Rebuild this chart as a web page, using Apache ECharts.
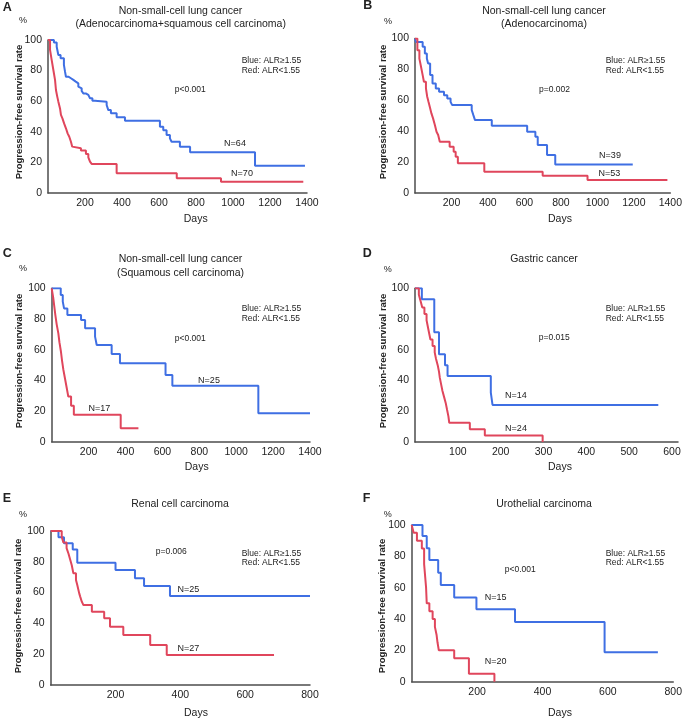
<!DOCTYPE html>
<html>
<head>
<meta charset="utf-8">
<script src="https://cdn.jsdelivr.net/npm/echarts@6/dist/echarts.min.js"></script>
<style>
html,body{margin:0;padding:0;background:#fff;}
#chart{width:685px;height:721px;}
</style>
</head>
<body>
<div id="chart"></div>
<script>
// ---- data (days, progression-free survival %) ----
const yTicks = [0, 20, 40, 60, 80, 100];
const xTicksLong = [200, 400, 600, 800, 1000, 1200, 1400];
const xTicksGastric = [100, 200, 300, 400, 500, 600];
const xTicksShort = [200, 400, 600, 800];

const aBlue = [[0,100],[32,98.3],[47,95.6],[56,90.2],[68,88],[86,83.7],[92,79.3],[97,76],[110,75],[124,73.9],[137,72.8],[150,71.7],[164,69.5],[173,68.4],[182,66.7],[191,65.1],[204,64.1],[218,63],[227,61.9],[240,60.3],[254,59.7],[317,57.5],[326,54.2],[340,52.1],[371,49.5],[416,47.3],[605,43.3],[623,41],[641,37.9],[659,35.7],[668,33.5],[713,30.3],[768,26.6],[1119,17.8],[1389,17.8]];
const aRed = [[0,100],[11,93.5],[20,86.9],[29,80.4],[38,73.9],[43,67.3],[50,63],[56,59.7],[65,55.3],[70,51],[78,48.8],[87,45.5],[97,42.3],[106,39],[115,36.8],[124,33.5],[131,30.3],[137,29.2],[178,27.7],[205,25.5],[218,23.3],[227,20.5],[236,19],[371,12.9],[696,9.6],[935,7.4],[1380,7.4]];

const bBlue = [[0,100],[5,97.8],[42,94.6],[54,90.3],[65,87],[72,83.8],[83,76.3],[96,70.9],[114,67.7],[132,65.5],[159,63.3],[177,61.2],[195,59],[204,56.9],[311,53.7],[320,50.4],[329,47.2],[421,43.5],[615,39.6],[660,36.4],[673,31],[724,24.6],[769,18.5],[1194,18.5]];
const bRed = [[0,100],[13,92.4],[24,87],[33,81.7],[42,76.3],[49,72],[60,67.7],[67,62.3],[74,59],[81,55.8],[90,51.5],[99,48.3],[109,44],[118,39.6],[127,37.5],[136,33.2],[190,29.9],[212,26.7],[223,23.5],[235,19.2],[380,13.8],[700,11.2],[946,8.4],[1384,8.4]];

const cBlue = [[0,100],[49,95.6],[60,91.3],[67,86.9],[85,82.6],[159,79.3],[181,73.9],[235,68.5],[244,63],[325,57.2],[370,51.1],[617,43.5],[654,36.5],[1120,18.5],[1400,18.5]];
const cRed = [[0,100],[8,94.1],[14,88.2],[20,82.4],[27,76.5],[36,70.6],[42,64.7],[50,58.8],[56,52.9],[63,47.1],[72,41.2],[81,35.3],[90,29.4],[105,23.5],[120,17.6],[374,8.8],[470,8.8]];

const dBlue = [[0,100],[16,92.9],[45,71.4],[56,57.1],[70,50],[76,42.9],[177,32.1],[181,24.1],[568,24.1]];
const dRed = [[0,100],[9,95.8],[13,91.7],[17,87.5],[22,83.3],[27,79.2],[30,75],[33,70.8],[36,66.7],[41,62.5],[46,58.3],[49,54.2],[53,50],[56,45.8],[58,41.7],[61,37.5],[64,33.3],[68,29.2],[72,25],[75,20.8],[78,16.7],[80,12.5],[128,8.3],[163,4.2],[298,0]];

const eBlue = [[0,100],[24,96],[41,92],[68,88],[82,79.4],[200,74.7],[260,69.3],[288,64.3],[368,57.8],[800,57.8]];
const eRed = [[0,100],[34,96.3],[39,92.6],[49,88.9],[55,85.2],[60,81.5],[65,77.8],[70,72.5],[78,68.2],[82,64.9],[88,59.5],[91,57.4],[96,54.1],[101,51.9],[127,47.6],[165,43.3],[183,37.9],[224,32.5],[307,26],[358,19.5],[689,19.5]];

const fBlue = [[0,100],[33,93],[46,85.1],[54,77.7],[81,69.6],[89,61.7],[130,53.8],[198,46.2],[316,38.1],[590,18.8],[753,18.8]];
const fRed = [[0,100],[6,95],[16,90],[31,85],[38,75],[44,60],[46,50],[54,45],[64,40],[71,35],[76,30],[79,25],[83,20],[130,15],[175,5],[253,0]];

// ---- layout ----
const FONT = "'Liberation Sans', Arial, sans-serif";
const BLUE = '#3f6fe3';
const RED = '#e0465c';
const AXIS = '#4d4d4d';
const TXT = '#222';

const panels = [
  {grid:{left:48, top:40, width:259, height:153}, xMax:1400, xInt:200, xTicks:xTicksLong, blue:aBlue, red:aRed},
  {grid:{left:415, top:38.5, width:258, height:154.5}, xMax:1400, xInt:200, xTicks:xTicksLong, blue:bBlue, red:bRed},
  {grid:{left:51.7, top:288.3, width:258.3, height:153.4}, xMax:1400, xInt:200, xTicks:xTicksLong, blue:cBlue, red:cRed},
  {grid:{left:415, top:288.3, width:263, height:153.7}, xMax:614, xInt:100, xTicks:xTicksGastric, blue:dBlue, red:dRed},
  {grid:{left:50.7, top:531, width:259.3, height:154}, xMax:800, xInt:200, xTicks:xTicksShort, blue:eBlue, red:eRed},
  {grid:{left:411.7, top:525, width:263.3, height:156.7}, xMax:800, xInt:200, xTicks:xTicksShort, blue:fBlue, red:fRed}
];

const grids = [], xAxes = [], yAxes = [], series = [];
panels.forEach((p, i) => {
  grids.push(Object.assign({containLabel:false}, p.grid));
  xAxes.push({
    type:'value', gridIndex:i, min:0, max:p.xMax, interval:p.xInt,
    axisLine:{show:true, onZero:false, lineStyle:{color:AXIS, width:1.5}},
    axisTick:{show:false}, splitLine:{show:false},
    axisLabel:{fontSize:10.5, fontFamily:FONT, color:TXT, margin:5,
      formatter: v => p.xTicks.indexOf(v) >= 0 ? String(v) : ''}
  });
  yAxes.push({
    type:'value', gridIndex:i, min:0, max:100, interval:20,
    axisLine:{show:true, onZero:false, lineStyle:{color:AXIS, width:1.5}},
    axisTick:{show:false}, splitLine:{show:false},
    axisLabel:{fontSize:10.5, fontFamily:FONT, color:TXT, margin:6,
      formatter: v => yTicks.indexOf(v) >= 0 ? String(v) : ''}
  });
  [[p.blue, BLUE], [p.red, RED]].forEach(([d, c]) => {
    series.push({
      type:'line', xAxisIndex:i, yAxisIndex:i, data:d, step:'end',
      showSymbol:false, symbol:'none', silent:true,
      lineStyle:{color:c, width:2}
    });
  });
});

function t(x, y, text, o) {
  o = o || {};
  return {
    type:'text', x:x, y:y, rotation:o.rot || 0, silent:true,
    style:{text:text, fill:TXT, fontFamily:FONT, fontSize:o.size || 10.5,
      fontWeight:o.bold ? 'bold' : 'normal',
      align:o.align || 'center', verticalAlign:'middle'}
  };
}

const g = [];
// panel letters
[['A',2.7,7.5],['B',363.3,5.8],['C',2.7,253.8],['D',362.7,253.8],['E',2.7,498.7],['F',362.7,498.3]]
  .forEach(([s,x,y]) => g.push(t(x, y, s, {bold:true, size:12.5, align:'left'})));
// titles
g.push(t(180.5, 10.7, 'Non-small-cell lung cancer'));
g.push(t(180.7, 24, '(Adenocarcinoma+squamous cell carcinoma)'));
g.push(t(544, 10.7, 'Non-small-cell lung cancer'));
g.push(t(544, 24, '(Adenocarcinoma)'));
g.push(t(180.5, 259.3, 'Non-small-cell lung cancer'));
g.push(t(180.5, 272.7, '(Squamous cell carcinoma)'));
g.push(t(544, 259.3, 'Gastric cancer'));
g.push(t(180, 504.3, 'Renal cell carcinoma'));
g.push(t(544, 504.3, 'Urothelial carcinoma'));
// percent signs
[[23,20.7],[388,22],[23,269],[387.7,270],[23,514.3],[387.7,514.3]]
  .forEach(([x,y]) => g.push(t(x, y, '%', {size:9})));
// y-axis names
[[19,112],[383.3,112],[19,361],[383.3,361],[18.3,606],[382.7,606]]
  .forEach(([x,y]) => g.push(t(x, y, 'Progression-free survival rate', {bold:true, size:9.5, rot:Math.PI/2})));
// x-axis names
[[195.7,219.3],[560,219.3],[196.7,467],[560,467],[196,712.7],[560,712.7]]
  .forEach(([x,y]) => g.push(t(x, y, 'Days')));
// legends
[[241.7,60.7],[605.7,60.7],[241.7,309],[605.7,309],[241.7,553.3],[605.7,553.3]]
  .forEach(([x,y]) => {
    g.push(t(x, y, 'Blue: ALR≥1.55', {size:8.5, align:'left'}));
    g.push(t(x, y + 9.8, 'Red: ALR<1.55', {size:8.5, align:'left'}));
  });
// p values
[[190.3,89.3,'p<0.001'],[554.5,89.3,'p=0.002'],[190.3,338.3,'p<0.001'],[554.3,337.7,'p=0.015'],[171.2,551.3,'p=0.006'],[520.3,569.3,'p<0.001']]
  .forEach(([x,y,s]) => g.push(t(x, y, s, {size:8.5})));
// N labels
[[235,144,'N=64'],[242,174,'N=70'],[610,155.7,'N=39'],[609.3,173.3,'N=53'],[209,380.7,'N=25'],[99.3,409,'N=17'],
 [515.8,395.7,'N=14'],[516,428.3,'N=24'],[188.3,589.3,'N=25'],[188.3,648.3,'N=27'],[495.7,597.7,'N=15'],[495.7,661.7,'N=20']]
  .forEach(([x,y,s]) => g.push(t(x, y, s, {size:9})));

const chart = echarts.init(document.getElementById('chart'), null, {renderer:'canvas'});
chart.setOption({
  animation:false,
  backgroundColor:'#fff',
  grid:grids, xAxis:xAxes, yAxis:yAxes, series:series,
  graphic:g
});
</script>
</body>
</html>
